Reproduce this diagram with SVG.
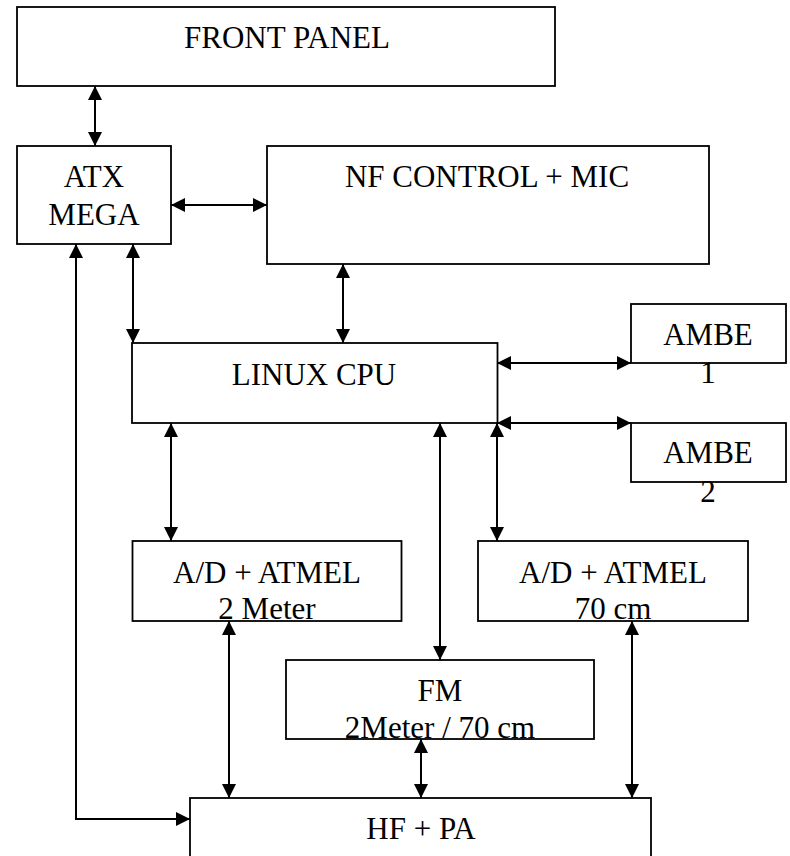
<svg xmlns="http://www.w3.org/2000/svg" width="790" height="856" viewBox="0 0 790 856">
<defs>
<style>
.box{fill:#fff;stroke:#000;stroke-width:1.8}
.t{font-family:"Liberation Serif","Times New Roman",serif;font-size:31px;fill:#000;text-anchor:middle}
.c{fill:none;stroke:#000;stroke-width:2;marker-start:url(#ah);marker-end:url(#ah)}
</style>
<marker id="ah" viewBox="0 0 14 14" refX="14" refY="7" markerWidth="14" markerHeight="14" markerUnits="userSpaceOnUse" orient="auto-start-reverse">
<path d="M0,0 L14,7 L0,14 z" fill="#000"/>
</marker>
</defs>
<rect width="790" height="856" fill="#fff"/>
<g id="front-panel"><rect class="box" x="17" y="7" width="538" height="79"/><text class="t" x="287" y="48">FRONT PANEL</text></g>
<g id="atx-mega"><rect class="box" x="17" y="146" width="154" height="98"/><text class="t" x="94" y="187">ATX</text><text class="t" x="94" y="225">MEGA</text></g>
<g id="nf-control"><rect class="box" x="267" y="146" width="442" height="118"/><text class="t" x="487" y="187">NF CONTROL + MIC</text></g>
<g id="linux-cpu"><rect class="box" x="132" y="343" width="365.5" height="80"/><text class="t" x="314" y="385">LINUX CPU</text></g>
<g id="ambe1"><rect class="box" x="631" y="304" width="155" height="59"/><text class="t" x="708" y="345">AMBE</text><text class="t" x="708" y="383">1</text></g>
<g id="ambe2"><rect class="box" x="631" y="423" width="155" height="59"/><text class="t" x="708" y="463">AMBE</text><text class="t" x="708" y="502">2</text></g>
<g id="ad-2m"><rect class="box" x="132.5" y="541" width="269" height="80"/><text class="t" x="267" y="583">A/D + ATMEL</text><text class="t" x="267" y="619">2 Meter</text></g>
<g id="ad-70cm"><rect class="box" x="478" y="541" width="270" height="80"/><text class="t" x="613" y="583">A/D + ATMEL</text><text class="t" x="613" y="619">70 cm</text></g>
<g id="fm"><rect class="box" x="286" y="660" width="308" height="79"/><text class="t" x="440" y="701">FM</text><text class="t" x="440" y="738">2Meter / 70 cm</text></g>
<g id="hf-pa"><rect class="box" x="190" y="798" width="461" height="80"/><text class="t" x="421" y="839">HF + PA</text></g>
<g id="connectors">
<path class="c" d="M95,86 L95,146"/>
<path class="c" d="M171,205 L267,205"/>
<path class="c" d="M133,244 L133,343"/>
<path class="c" d="M343,264 L343,343"/>
<path class="c" d="M497,363 L631,363"/>
<path class="c" d="M497,423 L631,423"/>
<path class="c" d="M171,423 L171,541"/>
<path class="c" d="M440,423 L440,660"/>
<path class="c" d="M497,423 L497,541"/>
<path class="c" d="M229,621 L229,798"/>
<path class="c" d="M421,739 L421,798"/>
<path class="c" d="M632,621 L632,798"/>
<path class="c" d="M76,244 L76,819 L190,819"/>
</g>
</svg>
